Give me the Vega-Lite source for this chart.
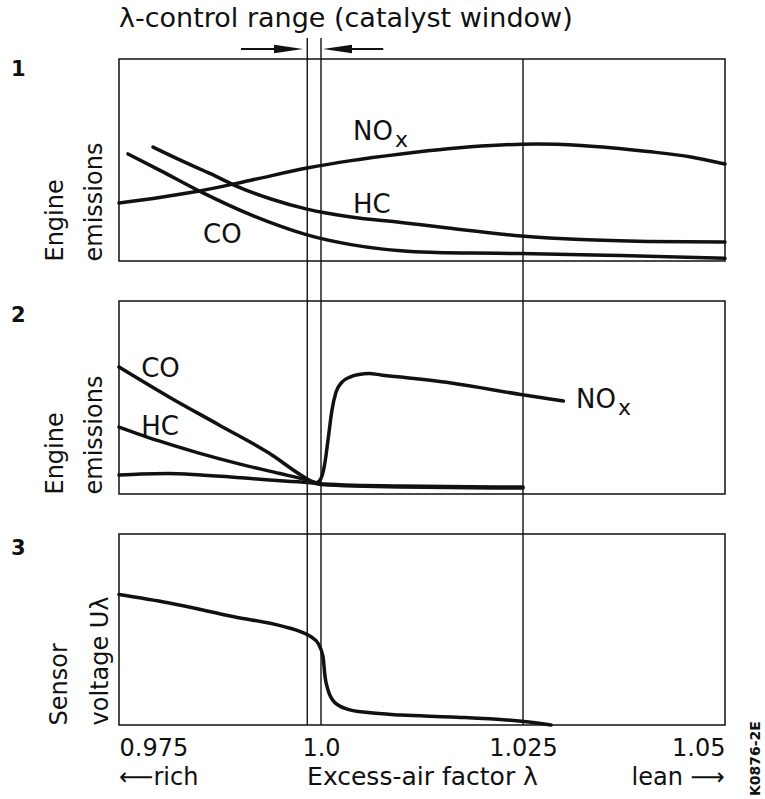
{
  "$schema": "https://vega.github.io/schema/vega-lite/v6.json",
  "padding": {"left": 10, "top": 4, "right": 0, "bottom": 0},
  "bounds": "flush",
  "spacing": 40,
  "config": {
    "font": "DejaVu Sans",
    "view": {"stroke": "#111", "strokeWidth": 1.5},
    "axis": {"labelColor": "#111", "titleColor": "#111", "grid": false}
  },
  "datasets": {
    "rules": [
      {"panel": 1, "lam": 0.9983, "v": 110.4, "v2": -19.8},
      {"panel": 1, "lam": 1.0, "v": 110.4, "v2": -19.8},
      {"panel": 1, "lam": 1.025, "v": 100, "v2": -19.8},
      {"panel": 2, "lam": 0.9983, "v": 100, "v2": -20.7},
      {"panel": 2, "lam": 1.0, "v": 100, "v2": -20.7},
      {"panel": 2, "lam": 1.025, "v": 100, "v2": -20.7},
      {"panel": 3, "lam": 0.9983, "v": 100, "v2": 0},
      {"panel": 3, "lam": 1.0, "v": 100, "v2": 0},
      {"panel": 3, "lam": 1.025, "v": 100, "v2": 0}
    ],
    "arrows": [
      {"lam": 0.9901, "lam2": 0.9962, "v": 104.95},
      {"lam": 1.0018, "lam2": 1.0077, "v": 104.95}
    ],
    "heads": [
      {"lam": 0.99598, "v": 104.95, "dir": "right"},
      {"lam": 1.00204, "v": 104.95, "dir": "left"}
    ],
    "c1": [
      {"gas": "NOx", "lam": 0.975, "v": 28.7},
      {"gas": "NOx", "lam": 0.9802, "v": 31.6},
      {"gas": "NOx", "lam": 0.98515, "v": 34.8},
      {"gas": "NOx", "lam": 0.99134, "v": 40.0},
      {"gas": "NOx", "lam": 0.99827, "v": 46.0},
      {"gas": "NOx", "lam": 1.00371, "v": 49.7},
      {"gas": "NOx", "lam": 1.0099, "v": 53.0},
      {"gas": "NOx", "lam": 1.01572, "v": 55.6},
      {"gas": "NOx", "lam": 1.02104, "v": 57.2},
      {"gas": "NOx", "lam": 1.02661, "v": 57.9},
      {"gas": "NOx", "lam": 1.03218, "v": 57.2},
      {"gas": "NOx", "lam": 1.04047, "v": 54.2},
      {"gas": "NOx", "lam": 1.04579, "v": 51.5},
      {"gas": "NOx", "lam": 1.05, "v": 48.0},
      {"gas": "HC", "lam": 0.97921, "v": 56.4},
      {"gas": "HC", "lam": 0.98267, "v": 49.8},
      {"gas": "HC", "lam": 0.98639, "v": 43.1},
      {"gas": "HC", "lam": 0.98923, "v": 37.6},
      {"gas": "HC", "lam": 0.99381, "v": 30.7},
      {"gas": "HC", "lam": 0.99827, "v": 25.7},
      {"gas": "HC", "lam": 1.00371, "v": 21.8},
      {"gas": "HC", "lam": 1.0099, "v": 19.1},
      {"gas": "HC", "lam": 1.01572, "v": 16.3},
      {"gas": "HC", "lam": 1.02475, "v": 12.4},
      {"gas": "HC", "lam": 1.03218, "v": 10.6},
      {"gas": "HC", "lam": 1.04047, "v": 9.7},
      {"gas": "HC", "lam": 1.05, "v": 9.4},
      {"gas": "CO", "lam": 0.97611, "v": 53.0},
      {"gas": "CO", "lam": 0.9802, "v": 44.6},
      {"gas": "CO", "lam": 0.98515, "v": 34.2},
      {"gas": "CO", "lam": 0.99134, "v": 22.8},
      {"gas": "CO", "lam": 0.99505, "v": 17.1},
      {"gas": "CO", "lam": 0.99827, "v": 12.9},
      {"gas": "CO", "lam": 1.00371, "v": 8.1},
      {"gas": "CO", "lam": 1.00743, "v": 6.0},
      {"gas": "CO", "lam": 1.0099, "v": 5.1},
      {"gas": "CO", "lam": 1.01351, "v": 4.3},
      {"gas": "CO", "lam": 1.01856, "v": 3.9},
      {"gas": "CO", "lam": 1.02475, "v": 3.7},
      {"gas": "CO", "lam": 1.03713, "v": 2.7},
      {"gas": "CO", "lam": 1.05, "v": 1.3}
    ],
    "c2": [
      {"gas": "CO", "lam": 0.975, "v": 65.8},
      {"gas": "CO", "lam": 0.98119, "v": 50.3},
      {"gas": "CO", "lam": 0.98738, "v": 35.8},
      {"gas": "CO", "lam": 0.99356, "v": 21.2},
      {"gas": "CO", "lam": 0.9979, "v": 8.8},
      {"gas": "CO", "lam": 0.99889, "v": 6.5},
      {"gas": "CO", "lam": 1.00025, "v": 5.2},
      {"gas": "CO", "lam": 1.00978, "v": 4.1},
      {"gas": "CO", "lam": 1.025, "v": 3.6},
      {"gas": "HC", "lam": 0.975, "v": 34.7},
      {"gas": "HC", "lam": 0.97995, "v": 27.5},
      {"gas": "HC", "lam": 0.9849, "v": 21.2},
      {"gas": "HC", "lam": 0.98998, "v": 15.5},
      {"gas": "HC", "lam": 0.99493, "v": 10.6},
      {"gas": "HC", "lam": 0.99814, "v": 7.3},
      {"gas": "HC", "lam": 1.0, "v": 4.9},
      {"gas": "HC", "lam": 1.00978, "v": 3.6},
      {"gas": "HC", "lam": 1.025, "v": 3.1},
      {"gas": "NOx", "lam": 0.975, "v": 9.8},
      {"gas": "NOx", "lam": 0.97772, "v": 10.4},
      {"gas": "NOx", "lam": 0.98106, "v": 10.6},
      {"gas": "NOx", "lam": 0.98515, "v": 9.8},
      {"gas": "NOx", "lam": 0.99134, "v": 8.0},
      {"gas": "NOx", "lam": 0.99629, "v": 6.5},
      {"gas": "NOx", "lam": 0.99827, "v": 6.0},
      {"gas": "NOx", "lam": 0.99926, "v": 5.7},
      {"gas": "NOx", "lam": 0.99975, "v": 6.5},
      {"gas": "NOx", "lam": 1.00012, "v": 9.3},
      {"gas": "NOx", "lam": 1.0005, "v": 16.6},
      {"gas": "NOx", "lam": 1.00087, "v": 28.0},
      {"gas": "NOx", "lam": 1.00136, "v": 43.5},
      {"gas": "NOx", "lam": 1.00186, "v": 52.8},
      {"gas": "NOx", "lam": 1.0026, "v": 58.0},
      {"gas": "NOx", "lam": 1.00359, "v": 60.6},
      {"gas": "NOx", "lam": 1.0047, "v": 61.9},
      {"gas": "NOx", "lam": 1.00594, "v": 62.4},
      {"gas": "NOx", "lam": 1.00743, "v": 61.7},
      {"gas": "NOx", "lam": 1.01609, "v": 57.5},
      {"gas": "NOx", "lam": 1.02512, "v": 51.3},
      {"gas": "NOx", "lam": 1.03, "v": 48.2}
    ],
    "c3": [
      {"gas": "U", "lam": 0.975, "v": 68.3},
      {"gas": "U", "lam": 0.98106, "v": 64.0},
      {"gas": "U", "lam": 0.98923, "v": 56.7},
      {"gas": "U", "lam": 0.99542, "v": 51.5},
      {"gas": "U", "lam": 0.99752, "v": 48.8},
      {"gas": "U", "lam": 0.99876, "v": 46.2},
      {"gas": "U", "lam": 0.99963, "v": 42.8},
      {"gas": "U", "lam": 1.00025, "v": 35.8},
      {"gas": "U", "lam": 1.0005, "v": 25.3},
      {"gas": "U", "lam": 1.00087, "v": 18.3},
      {"gas": "U", "lam": 1.00161, "v": 12.2},
      {"gas": "U", "lam": 1.00334, "v": 8.2},
      {"gas": "U", "lam": 1.00582, "v": 6.5},
      {"gas": "U", "lam": 1.0099, "v": 5.2},
      {"gas": "U", "lam": 1.01609, "v": 4.2},
      {"gas": "U", "lam": 1.02512, "v": 1.8},
      {"gas": "U", "lam": 1.02847, "v": 0}
    ],
    "lab": [
      {"panel": 1, "kind": "main", "lam": 1.00396, "v": 59.9, "t": "NO"},
      {"panel": 1, "kind": "sub", "lam": 1.00916, "v": 56.4, "t": "x"},
      {"panel": 1, "kind": "main", "lam": 1.00396, "v": 23.8, "t": "HC"},
      {"panel": 1, "kind": "main", "lam": 0.9854, "v": 8.9, "t": "CO"},
      {"panel": 1, "kind": "num", "lam": 0.96163, "v": 91.6, "t": "1"},
      {"panel": 1, "kind": "title", "lam": 0.975, "v": 115.84, "t": "λ-control range (catalyst window)"},
      {"panel": 2, "kind": "main", "lam": 0.97774, "v": 60.6, "t": "CO"},
      {"panel": 2, "kind": "main", "lam": 0.97774, "v": 30.6, "t": "HC"},
      {"panel": 2, "kind": "main", "lam": 1.03156, "v": 44.6, "t": "NO"},
      {"panel": 2, "kind": "sub", "lam": 1.03676, "v": 40.9, "t": "x"},
      {"panel": 2, "kind": "num", "lam": 0.96163, "v": 89.1, "t": "2"},
      {"panel": 3, "kind": "num", "lam": 0.96163, "v": 89.0, "t": "3"},
      {"panel": 3, "kind": "footL", "lam": 0.975, "v": -31.4, "t": "⟵rich"},
      {"panel": 3, "kind": "footR", "lam": 1.05, "v": -31.4, "t": "lean ⟶"},
      {"panel": 3, "kind": "code", "lam": 1.0543, "v": -37.2, "t": "K0876-2E"}
    ]
  },
  "vconcat": [
    {
      "width": 606,
      "height": 202,
      "encoding": {
        "x": {"field": "lam", "type": "quantitative", "scale": {"domain": [0.975, 1.05], "nice": false, "zero": false}, "axis": null},
        "y": {"field": "v", "type": "quantitative", "scale": {"domain": [0, 100], "nice": false, "zero": false},
          "axis": {"title": ["Engine", "emissions"], "labels": false, "ticks": false, "domain": false, "grid": false,
            "titleFontSize": 24, "titleFontWeight": "normal", "titleAnchor": "start", "titlePadding": 13, "titleLineHeight": 39}}
      },
      "layer": [
        {"data": {"name": "rules"}, "transform": [{"filter": "datum.panel == 1"}],
          "mark": {"type": "rule", "color": "#111", "strokeWidth": 1.4}, "encoding": {"y2": {"field": "v2"}}},
        {"data": {"name": "arrows"}, "mark": {"type": "rule", "color": "#111", "strokeWidth": 1.8}, "encoding": {"x2": {"field": "lam2"}}},
        {"data": {"name": "heads"}, "transform": [{"filter": "datum.dir == 'right'"}],
          "mark": {"type": "point", "shape": "M-1,-0.3L1,0L-1,0.3Z", "filled": true, "size": 841, "opacity": 1, "color": "#111", "strokeWidth": 0}},
        {"data": {"name": "heads"}, "transform": [{"filter": "datum.dir == 'left'"}],
          "mark": {"type": "point", "shape": "M1,-0.3L-1,0L1,0.3Z", "filled": true, "size": 841, "opacity": 1, "color": "#111", "strokeWidth": 0}},
        {"data": {"name": "c1"}, "mark": {"type": "line", "color": "#111", "strokeWidth": 3.5, "interpolate": "monotone", "strokeCap": "round"},
          "encoding": {"detail": {"field": "gas"}}},
        {"data": {"name": "lab"}, "transform": [{"filter": "datum.panel == 1 && datum.kind == 'main'"}],
          "mark": {"type": "text", "fontSize": 26, "align": "left", "baseline": "alphabetic", "color": "#111"}, "encoding": {"text": {"field": "t"}}},
        {"data": {"name": "lab"}, "transform": [{"filter": "datum.panel == 1 && datum.kind == 'sub'"}],
          "mark": {"type": "text", "fontSize": 22, "align": "left", "baseline": "alphabetic", "color": "#111"}, "encoding": {"text": {"field": "t"}}},
        {"data": {"name": "lab"}, "transform": [{"filter": "datum.panel == 1 && datum.kind == 'num'"}],
          "mark": {"type": "text", "fontSize": 21, "fontWeight": "bold", "align": "left", "baseline": "alphabetic", "color": "#111"}, "encoding": {"text": {"field": "t"}}},
        {"data": {"name": "lab"}, "transform": [{"filter": "datum.panel == 1 && datum.kind == 'title'"}],
          "mark": {"type": "text", "fontSize": 27, "align": "left", "baseline": "alphabetic", "color": "#111"}, "encoding": {"text": {"field": "t"}}}
      ]
    },
    {
      "width": 606,
      "height": 193,
      "encoding": {
        "x": {"field": "lam", "type": "quantitative", "scale": {"domain": [0.975, 1.05], "nice": false, "zero": false}, "axis": null},
        "y": {"field": "v", "type": "quantitative", "scale": {"domain": [0, 100], "nice": false, "zero": false},
          "axis": {"title": ["Engine", "emissions"], "labels": false, "ticks": false, "domain": false, "grid": false,
            "titleFontSize": 24, "titleFontWeight": "normal", "titleAnchor": "start", "titlePadding": 13, "titleLineHeight": 39}}
      },
      "layer": [
        {"data": {"name": "rules"}, "transform": [{"filter": "datum.panel == 2"}],
          "mark": {"type": "rule", "color": "#111", "strokeWidth": 1.4}, "encoding": {"y2": {"field": "v2"}}},
        {"data": {"name": "c2"}, "mark": {"type": "line", "color": "#111", "strokeWidth": 3.5, "interpolate": "monotone", "strokeCap": "round"},
          "encoding": {"detail": {"field": "gas"}}},
        {"data": {"name": "lab"}, "transform": [{"filter": "datum.panel == 2 && datum.kind == 'main'"}],
          "mark": {"type": "text", "fontSize": 26, "align": "left", "baseline": "alphabetic", "color": "#111"}, "encoding": {"text": {"field": "t"}}},
        {"data": {"name": "lab"}, "transform": [{"filter": "datum.panel == 2 && datum.kind == 'sub'"}],
          "mark": {"type": "text", "fontSize": 22, "align": "left", "baseline": "alphabetic", "color": "#111"}, "encoding": {"text": {"field": "t"}}},
        {"data": {"name": "lab"}, "transform": [{"filter": "datum.panel == 2 && datum.kind == 'num'"}],
          "mark": {"type": "text", "fontSize": 21, "fontWeight": "bold", "align": "left", "baseline": "alphabetic", "color": "#111"}, "encoding": {"text": {"field": "t"}}}
      ]
    },
    {
      "width": 606,
      "height": 191,
      "encoding": {
        "x": {"field": "lam", "type": "quantitative", "scale": {"domain": [0.975, 1.05], "nice": false, "zero": false},
          "axis": {"values": [0.975, 1, 1.025, 1.05], "format": ".3~f", "labelExpr": "datum.value == 1 ? '1.0' : datum.label",
            "labelFlush": true, "labelOverlap": false, "ticks": false, "tickSize": 0, "domain": false, "grid": false,
            "labelFontSize": 24, "labelPadding": 11, "title": "Excess-air factor λ", "titleFontSize": 25, "titleFontWeight": "normal", "titlePadding": 4}},
        "y": {"field": "v", "type": "quantitative", "scale": {"domain": [0, 100], "nice": false, "zero": false},
          "axis": {"title": ["Sensor", "voltage  Uλ"], "labels": false, "ticks": false, "domain": false, "grid": false,
            "titleFontSize": 24, "titleFontWeight": "normal", "titleAnchor": "start", "titlePadding": 7, "titleLineHeight": 41}}
      },
      "layer": [
        {"data": {"name": "rules"}, "transform": [{"filter": "datum.panel == 3"}],
          "mark": {"type": "rule", "color": "#111", "strokeWidth": 1.4}, "encoding": {"y2": {"field": "v2"}}},
        {"data": {"name": "c3"}, "mark": {"type": "line", "color": "#111", "strokeWidth": 3.5, "interpolate": "monotone", "strokeCap": "round"},
          "encoding": {"detail": {"field": "gas"}}},
        {"data": {"name": "lab"}, "transform": [{"filter": "datum.panel == 3 && datum.kind == 'num'"}],
          "mark": {"type": "text", "fontSize": 21, "fontWeight": "bold", "align": "left", "baseline": "alphabetic", "color": "#111"}, "encoding": {"text": {"field": "t"}}},
        {"data": {"name": "lab"}, "transform": [{"filter": "datum.kind == 'footL'"}],
          "mark": {"type": "text", "fontSize": 24, "align": "left", "baseline": "alphabetic", "color": "#111"}, "encoding": {"text": {"field": "t"}}},
        {"data": {"name": "lab"}, "transform": [{"filter": "datum.kind == 'footR'"}],
          "mark": {"type": "text", "fontSize": 24, "align": "right", "baseline": "alphabetic", "color": "#111"}, "encoding": {"text": {"field": "t"}}},
        {"data": {"name": "lab"}, "transform": [{"filter": "datum.kind == 'code'"}],
          "mark": {"type": "text", "fontSize": 14, "fontWeight": "bold", "angle": 270, "align": "left", "baseline": "alphabetic", "color": "#111"}, "encoding": {"text": {"field": "t"}}}
      ]
    }
  ]
}
